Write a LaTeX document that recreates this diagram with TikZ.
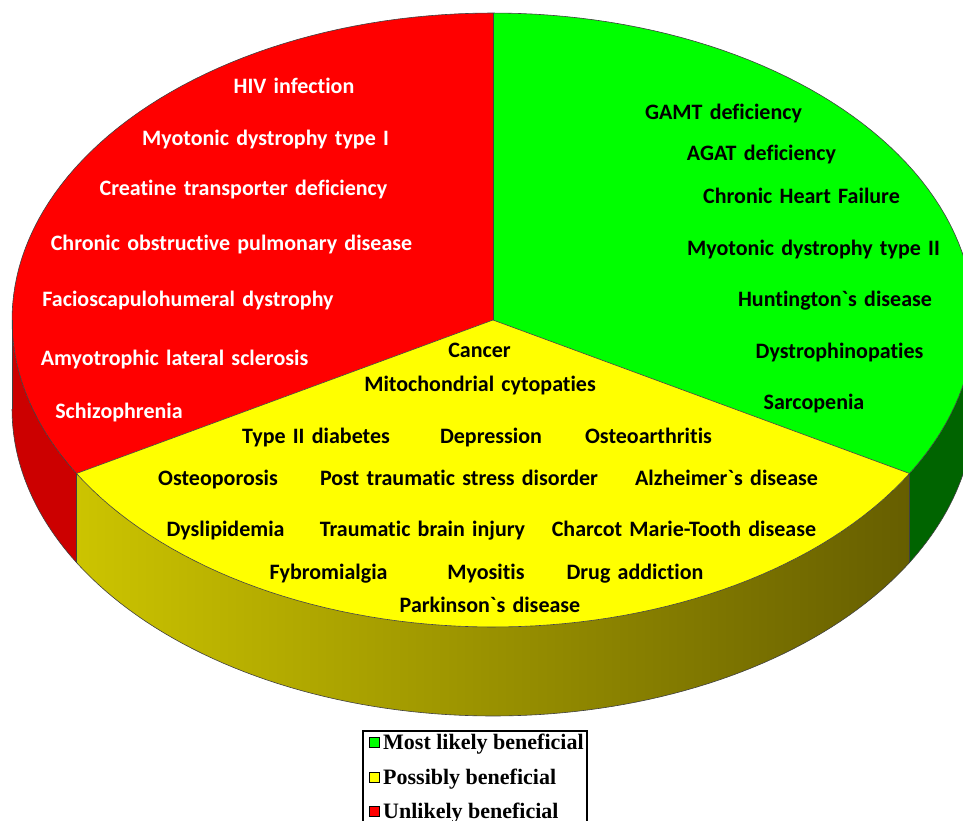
\documentclass[tikz,border=0pt]{standalone}
\usepackage{fontspec}
\newfontfamily\carl{Carlito}[Ligatures={NoCommon}]
\newfontfamily\lserif{Liberation Serif}[Ligatures={NoCommon}]
\definecolor{topRed}{HTML}{FF0000}
\definecolor{topGreen}{HTML}{00FF00}
\definecolor{topYellow}{HTML}{FFFF00}
\definecolor{sideRed}{HTML}{CC0000}
\definecolor{sideGreen}{HTML}{006400}
\definecolor{sideYL}{HTML}{CCC400}
\definecolor{sideYR}{HTML}{665E00}
\definecolor{edgeGrey}{HTML}{404040}
\newcommand\lblfont{\carl\bfseries\fontsize{22}{26}\selectfont\spaceskip=0.33em\relax}
\newcommand\legfont{\lserif\bfseries\fontsize{22}{26}\selectfont}
\begin{document}
\begin{tikzpicture}[x=1pt,y=-1pt,
  lblw/.style={font=\lblfont, text=white, anchor=base, inner sep=0pt},
  lblk/.style={font=\lblfont, text=black, anchor=base, inner sep=0pt},
  legtxt/.style={font=\legfont, text=black, anchor=base west, inner sep=0pt},
  legsq/.style={draw=black, line width=0.9pt, minimum size=10pt, inner sep=0pt},
  pieedge/.style={draw=edgeGrey, line width=0.6pt},
  legbox/.style={draw=black, line width=1.8pt}]
\useasboundingbox (0,0) rectangle (963,821);
\clip (0,0) rectangle (963,821);
% ---- side walls
\fill[sideRed] plot[domain=180:210,samples=20] ({493+481*cos(\x)},{320-307*sin(\x)})
  -- plot[domain=210:180,samples=20] ({493+481*cos(\x)},{409-307*sin(\x)}) -- cycle;
\shade[left color=sideYL, right color=sideYR] plot[domain=210:330,samples=80] ({493+481*cos(\x)},{320-307*sin(\x)})
  -- plot[domain=330:210,samples=80] ({493+481*cos(\x)},{409-307*sin(\x)}) -- cycle;
\fill[sideGreen] plot[domain=330:360,samples=20] ({493+481*cos(\x)},{320-307*sin(\x)})
  -- plot[domain=360:330,samples=20] ({493+481*cos(\x)},{409-307*sin(\x)}) -- cycle;
% ---- top faces
\coordinate (ctr) at (493,320);
\coordinate (pTop) at (493,13);
\coordinate (pLeft) at ({493+481*cos(210)},{320-307*sin(210)});
\coordinate (pRight) at ({493+481*cos(330)},{320-307*sin(330)});
\fill[topRed] (ctr) -- plot[domain=90:210,samples=80] ({493+481*cos(\x)},{320-307*sin(\x)}) -- cycle;
\fill[topGreen] (ctr) -- plot[domain=-30:90,samples=80] ({493+481*cos(\x)},{320-307*sin(\x)}) -- cycle;
\fill[topYellow] (ctr) -- plot[domain=210:330,samples=80] ({493+481*cos(\x)},{320-307*sin(\x)}) -- cycle;
% ---- edges
\draw[pieedge] plot[domain=0:360,samples=200] ({493+481*cos(\x)},{320-307*sin(\x)}) -- cycle;
\draw[pieedge] plot[domain=180:360,samples=120] ({493+481*cos(\x)},{409-307*sin(\x)});
\draw[pieedge] (12,320) -- (12,409);
\draw[pieedge] (pLeft) -- ++(0,89);
\draw[pieedge] (pRight) -- ++(0,89);
\draw[pieedge] (ctr) -- (pTop);
\draw[pieedge] (ctr) -- (pLeft);
\draw[pieedge] (ctr) -- (pRight);
% ---- red slice labels
\node[lblw] (r1) at (294,94) {HIV infection};
\node[lblw] (r2) at (265.5,146) {Myotonic dystrophy type I};
\node[lblw] (r3) at (243.5,196) {Creatine transporter deficiency};
\node[lblw] (r4) at (231.5,250) {Chronic obstructive pulmonary disease};
\node[lblw] (r5) at (188,306) {Facioscapulohumeral dystrophy};
\node[lblw] (r6) at (174.5,365) {Amyotrophic lateral sclerosis};
\node[lblw] (r7) at (119,418) {Schizophrenia};
% ---- green slice labels
\node[lblk] (g1) at (723.5,120) {GAMT deficiency};
\node[lblk] (g2) at (761.5,161) {AGAT deficiency};
\node[lblk] (g3) at (801.5,204) {Chronic Heart Failure};
\node[lblk] (g4) at (813.5,255) {Myotonic dystrophy type II};
\node[lblk] (g5) at (835,306) {Huntington\textasciigrave s disease};
\node[lblk] (g6) at (839.5,358) {Dystrophinopaties};
\node[lblk] (g7) at (814,409) {Sarcopenia};
% ---- yellow slice labels
\node[lblk] (y1) at (479.5,357) {Cancer};
\node[lblk] (y2) at (480,391) {Mitochondrial cytopaties};
\node[lblk] (y3) at (316,443) {Type II diabetes};
\node[lblk] (y4) at (491,443) {Depression};
\node[lblk] (y5) at (648.5,443) {Osteoarthritis};
\node[lblk] (y6) at (218,485) {Osteoporosis};
\node[lblk] (y7) at (459,485) {Post traumatic stress disorder};
\node[lblk] (y8) at (726.5,485) {Alzheimer\textasciigrave s disease};
\node[lblk] (y9) at (225.5,536) {Dyslipidemia};
\node[lblk] (y10) at (422.5,536) {Traumatic brain injury};
\node[lblk] (y11) at (684,536) {Charcot Marie-Tooth disease};
\node[lblk] (y12) at (328.5,579) {Fybromialgia};
\node[lblk] (y13) at (486,579) {Myositis};
\node[lblk] (y14) at (635,579) {Drug addiction};
\node[lblk] (y15) at (490,612) {Parkinson\textasciigrave s disease};
% ---- legend
\draw[legbox] (363,731) rectangle (587,826);
\node[legsq, fill=topGreen] (sq1) at (374.5,742.5) {};
\node[legsq, fill=topYellow] (sq2) at (374.5,777.5) {};
\node[legsq, fill=topRed] (sq3) at (374.5,811.5) {};
\node[legtxt] (lg1) at (383,749) {Most likely beneficial};
\node[legtxt] (lg2) at (383,784) {Possibly beneficial};
\node[legtxt] (lg3) at (383,818) {Unlikely beneficial};
\end{tikzpicture}
\end{document}
